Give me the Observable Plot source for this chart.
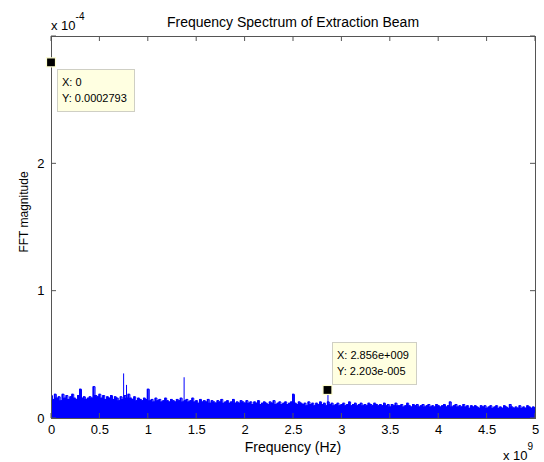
<!DOCTYPE html>
<html><head><meta charset="utf-8">
<script src="https://cdn.jsdelivr.net/npm/d3@7"></script>
<script src="https://cdn.jsdelivr.net/npm/@observablehq/plot@0.6"></script>
<style>body{margin:0;background:#fff} svg{display:block}</style>
</head><body><div id="chart"></div>
<script>
const titleText = "Frequency Spectrum of Extraction Beam";
const xLabelText = "Frequency (Hz)";
const yLabelText = "FFT magnitude";
const xTickLabels = [0, 0.5, 1, 1.5, 2, 2.5, 3, 3.5, 4, 4.5, 5];   // ×10^9 Hz
const yTickLabels = [0, 1, 2];                                     // ×10^-4
const xExponent = "9";
const yExponent = "-4";
const binWidthGHz = 0.02;
// spectrum magnitude per 0.02 GHz bin, in units of 1e-5
const spectrumE5 = [
  1.8,1.5,1.9,1.6,1.7,1.4,1.9,1.6,1.8,1.5,
  1.7,1.9,1.6,1.5,1.8,2.3,1.6,1.7,1.5,1.6,
  1.7,1.6,2.5,1.8,1.7,1.9,1.6,1.8,1.5,1.7,
  1.6,1.8,1.5,1.7,1.6,1.4,1.7,1.5,1.8,1.6,
  1.9,1.6,1.5,1.7,1.4,1.6,1.5,1.4,1.6,1.5,
  2.3,1.4,1.5,1.3,1.6,1.4,1.5,1.3,1.4,1.6,
  1.4,1.3,1.5,1.4,1.3,1.5,1.4,1.6,1.3,1.4,
  1.5,1.3,1.4,1.6,1.3,1.4,1.2,1.5,1.3,1.4,
  1.3,1.5,1.2,1.4,1.3,1.2,1.4,1.3,1.5,1.2,
  1.3,1.4,1.2,1.3,1.5,1.2,1.3,1.2,1.4,1.3,
  1.2,1.4,1.2,1.3,1.1,1.3,1.2,1.4,1.1,1.2,
  1.3,1.2,1.1,1.3,1.2,1.4,1.1,1.2,1.3,1.1,
  1.2,1.3,1.1,1.2,1.3,1.9,1.2,1.1,1.3,1.2,
  1.1,1.2,1.0,1.3,1.1,1.2,1.0,1.2,1.1,1.3,
  1.1,1.2,1.0,1.3,1.1,1.2,1.0,1.1,1.2,1.0,
  1.1,1.2,1.0,1.1,1.3,1.0,1.1,1.2,1.0,1.1,
  1.2,1.0,1.1,1.0,1.2,1.1,1.0,1.2,1.1,1.0,
  1.1,1.0,1.2,1.0,1.1,0.9,1.1,1.0,1.2,1.0,
  1.0,1.1,0.9,1.0,1.2,1.0,0.9,1.1,1.0,1.1,
  0.9,1.0,1.1,0.9,1.0,1.1,0.9,1.0,0.9,1.1,
  1.0,0.9,1.0,1.1,0.9,1.0,1.3,0.9,1.0,1.1,
  0.9,1.0,0.9,1.1,0.9,1.0,0.8,1.0,0.9,1.0,
  0.9,0.8,1.0,0.9,1.0,0.8,0.9,1.0,0.8,0.9,
  1.0,0.8,0.9,0.8,1.0,0.9,0.8,1.1,0.9,0.8,
  0.9,0.8,1.0,0.8,0.9,0.8,1.0,0.9,0.8,0.9,
  0.8
];
// isolated narrow spikes
const spikeFreqGHz = [0.745, 0.775, 1.37, 2.856];
const spikeMagE5   = [3.5, 2.6, 3.2, 2.203];
// data tips
const tipX = [0, 2.856e9];
const tipY = [0.0002793, 2.203e-5];
const tipXText = ["X: 0", "X: 2.856e+009"];
const tipYText = ["Y: 0.0002793", "Y: 2.203e-005"];
const tipPlacement = ["below", "above"];

const spectrum = spectrumE5.map((m, i) => ({f: i * binWidthGHz * 1e9, m: m * 1e-5}));
const spikes = spikeFreqGHz.map((f, i) => ({f: f * 1e9, m: spikeMagE5[i] * 1e-5}));

const W = 544, H = 462;
const axisColor = "#555";
const font = "'Liberation Sans', Arial, sans-serif";

const plot = Plot.plot({
  width: W, height: H,
  marginLeft: 51, marginRight: 9, marginTop: 36, marginBottom: 44,
  style: {fontFamily: font, fontSize: "13px", background: "white", color: "#000", overflow: "visible"},
  x: {domain: [0, 5e9]},
  y: {domain: [0, 3e-4]},
  marks: [
    Plot.areaY(spectrum, {x: "f", y: "m", curve: "step", fill: "#0000ff"}),
    Plot.lineY(spectrum, {x: "f", y: "m", curve: "step", stroke: "#0000ff", strokeWidth: 1}),
    Plot.ruleX(spikes, {x: "f", y1: 0, y2: "m", stroke: "#0000ff", strokeWidth: 1}),
    Plot.frame({stroke: axisColor}),
    Plot.axisX(xTickLabels.map(d => d * 1e9), {tickSize: 0, tickPadding: 6, tickFormat: d => String(+(d / 1e9).toFixed(1)), label: null, fill: "#000"}),
    Plot.axisY(yTickLabels.map(d => d * 1e-4), {tickSize: 0, tickPadding: 7, tickFormat: d => String(Math.round(d / 1e-4)), label: null, fill: "#000"})
  ]
});
document.getElementById("chart").appendChild(plot);

const sx = plot.scale("x"), sy = plot.scale("y");
const svg = d3.select(plot);
const x0 = sx.apply(0), x1 = sx.apply(5e9), y0 = sy.apply(0), y1 = sy.apply(3e-4);
const tk = 5;
const g = svg.append("g").attr("stroke", axisColor).attr("stroke-width", 1);
xTickLabels.forEach(t => {
  const px = sx.apply(t * 1e9);
  g.append("line").attr("x1", px).attr("x2", px).attr("y1", y0).attr("y2", y0 - tk);
  g.append("line").attr("x1", px).attr("x2", px).attr("y1", y1).attr("y2", y1 + tk);
});
[0, 1, 2, 3].forEach(t => {
  const py = sy.apply(t * 1e-4);
  g.append("line").attr("x1", x0).attr("x2", x0 + tk).attr("y1", py).attr("y2", py);
  g.append("line").attr("x1", x1).attr("x2", x1 - tk).attr("y1", py).attr("y2", py);
});

// title and labels
svg.append("text").attr("x", (x0 + x1) / 2).attr("y", 27).attr("text-anchor", "middle")
  .attr("font-family", font).attr("font-size", 14).attr("fill", "#000").text(titleText);
svg.append("text").attr("x", (x0 + x1) / 2).attr("y", 452).attr("text-anchor", "middle")
  .attr("font-family", font).attr("font-size", 14).attr("fill", "#000").text(xLabelText);
svg.append("text").attr("transform", `translate(28,212) rotate(-90)`).attr("text-anchor", "middle")
  .attr("font-family", font).attr("font-size", 12).attr("fill", "#000").text(yLabelText);

// exponent multipliers
const ey = svg.append("text").attr("x", x0).attr("y", 30).attr("text-anchor", "start")
  .attr("font-family", font).attr("font-size", 13).attr("fill", "#000");
ey.append("tspan").text("x 10");
ey.append("tspan").attr("dy", -10).attr("font-size", 10).text(yExponent);
const ex = svg.append("text").attr("x", 503).attr("y", 460).attr("text-anchor", "start")
  .attr("font-family", font).attr("font-size", 13).attr("fill", "#000");
ex.append("tspan").text("x 10");
ex.append("tspan").attr("dy", -10).attr("font-size", 10).text(xExponent);

// data tips
tipX.forEach((xv, i) => {
  const px = sx.apply(xv), py = sy.apply(tipY[i]);
  const tg = svg.append("g").attr("font-family", font).attr("font-size", 11).attr("text-anchor", "start").attr("fill", "#000");
  const box = tg.append("rect").attr("fill", "#ffffe1").attr("stroke", "#cfcfc4");
  const t1 = tg.append("text").text(tipXText[i]);
  const t2 = tg.append("text").text(tipYText[i]);
  const tw = Math.max(t1.node().getComputedTextLength(), t2.node().getComputedTextLength());
  const bw = Math.round(tw + 12), bh = 42;
  const bx = Math.round(px) + (tipPlacement[i] === "below" ? 6 : 5);
  const by = tipPlacement[i] === "below" ? Math.round(py) + 7 : Math.round(py) - 48;
  box.attr("x", bx + 0.5).attr("y", by + 0.5).attr("width", bw).attr("height", bh);
  t1.attr("x", bx + 5).attr("y", by + 16.5);
  t2.attr("x", bx + 5).attr("y", by + 32.5);
  svg.append("rect").attr("x", px - 4.5).attr("y", py - 4.5).attr("width", 9).attr("height", 9)
    .attr("fill", "#000").attr("stroke", "#ffffd0").attr("stroke-width", 1.2);
});
</script>
</body></html>
